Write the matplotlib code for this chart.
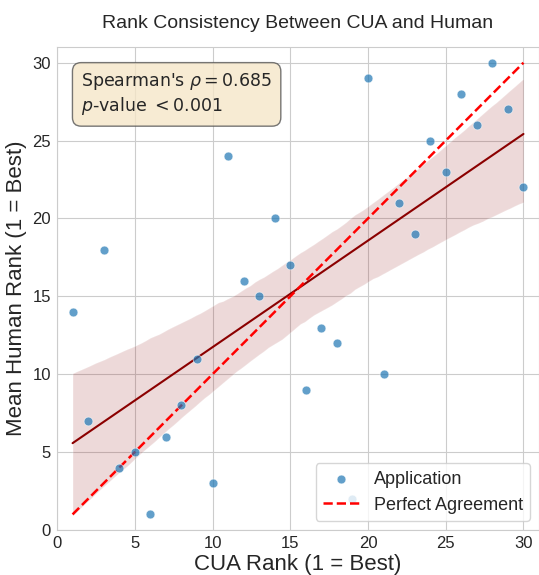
import matplotlib
matplotlib.use("Agg")
import matplotlib.pyplot as plt
import numpy as np
import seaborn as sns

cua_rank = [1, 2, 3, 4, 5, 6, 7, 8, 9, 10, 11, 12, 13, 14, 15,
            16, 17, 18, 19, 20, 21, 22, 23, 24, 25, 26, 27, 28, 29, 30]
human_rank = [14, 7, 18, 4, 5, 1, 6, 8, 11, 3, 24, 16, 15, 20, 17,
              9, 13, 12, 2, 29, 10, 21, 19, 25, 23, 28, 26, 30, 27, 22]
rho_text = "Spearman's $\\rho = 0.685$\n$p$-value $< 0.001$"

sns.set_style("whitegrid")
plt.rcParams['font.family'] = ['Liberation Sans', 'DejaVu Sans']

fig = plt.figure(figsize=(5.39, 5.75), dpi=100)
ax = fig.add_axes([0.1058, 0.0783, 0.8942, 0.8397])

x = np.array(cua_rank)
y = np.array(human_rank)

sns.regplot(x=x, y=y, ax=ax, scatter=False, color='darkred', ci=95, seed=3,
            line_kws={'linewidth': 1.5})
ax.scatter(x, y, s=40, color='#1f77b4', alpha=0.7, edgecolor='white',
           linewidth=0.5, label='Application', zorder=3)
ax.plot([1, 30], [1, 30], 'r--', linewidth=1.8, label='Perfect Agreement')

ax.set_xlim(0, 31)
ax.set_ylim(0, 31)
ax.set_xticks([0, 5, 10, 15, 20, 25, 30])
ax.set_yticks([0, 5, 10, 15, 20, 25, 30])
ax.tick_params(labelsize=12, pad=1)
ax.set_xlabel('CUA Rank (1 = Best)', fontsize=16, labelpad=2)
ax.set_ylabel('Mean Human Rank (1 = Best)', fontsize=16, labelpad=4)
ax.set_title('Rank Consistency Between CUA and Human', fontsize=14, pad=14)

ax.text(0.05, 0.95, rho_text, transform=ax.transAxes, fontsize=12.5,
        va='top', family=['DejaVu Sans'],
        bbox=dict(boxstyle='round,pad=0.5', facecolor='#f5e6c8',
                  edgecolor='#555555', alpha=0.8))
ax.legend(loc='lower right', fontsize=13, frameon=True)

fig.savefig('out.png', dpi=100)
